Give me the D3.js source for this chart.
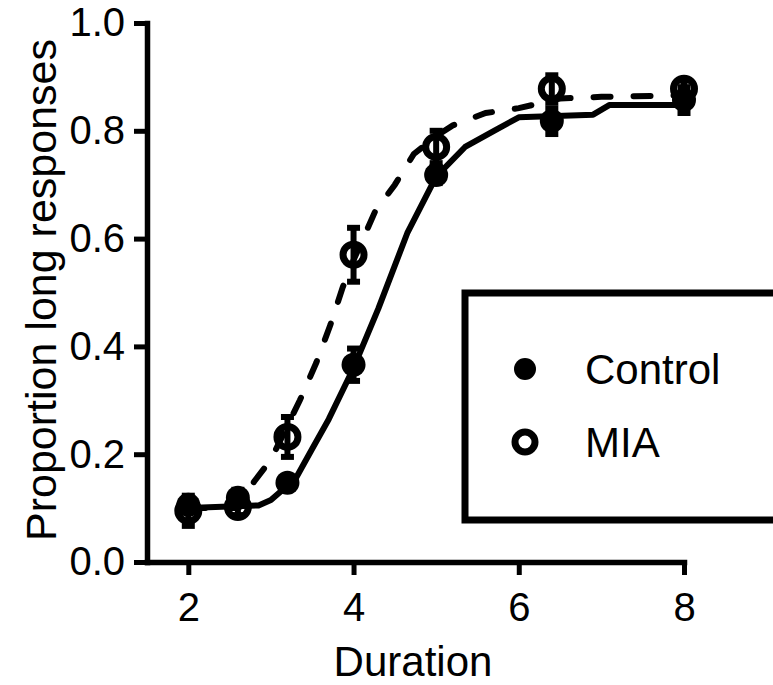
<!DOCTYPE html>
<html>
<head>
<meta charset="utf-8">
<script src="https://cdn.jsdelivr.net/npm/d3@7"></script>
<style>
  body { margin: 0; background: #fff; }
  svg { display: block; }
  text { font-family: 'Liberation Sans', Arial, sans-serif; fill: #000; }
</style>
</head>
<body>
<div id="chart"></div>
<script>
// group means and SEM at each tested duration
const durations = [2, 2.6, 3.2, 4, 5, 6.4, 8]
const controlMean = [0.106, 0.119, 0.147, 0.366, 0.718, 0.818, 0.857]
const controlErr = [0.012, 0.015, 0.01, 0.03, 0.015, 0.024, 0.024]
const miaMean = [0.095, 0.102, 0.232, 0.57, 0.77, 0.878, 0.878]
const miaErr = [0.028, 0.015, 0.037, 0.05, 0.03, 0.025, 0.015]

// fitted curves
const controlFitX = [2, 2.85, 3.0, 3.3, 3.5, 3.7, 4.0, 4.3, 4.65, 5.0, 5.35, 5.7, 6.0, 6.9, 7.1, 8]
const controlFitY = [0.10, 0.105, 0.115, 0.155, 0.21, 0.265, 0.36, 0.47, 0.61, 0.715, 0.77, 0.80, 0.825, 0.83, 0.848, 0.848]
const miaFitX = [2, 2.6, 2.8, 3.0, 3.35, 3.55, 3.72, 3.87, 4.0, 4.26, 4.5, 4.73, 5.0, 5.2, 5.6, 6.0, 6.5, 7.0, 8]
const miaFitY = [0.10, 0.10, 0.15, 0.19, 0.30, 0.37, 0.44, 0.51, 0.56, 0.65, 0.70, 0.757, 0.79, 0.81, 0.833, 0.842, 0.86, 0.863, 0.866]

const xTicks = [2, 4, 6, 8]
const yTicks = [0, 0.2, 0.4, 0.6, 0.8, 1.0]
const seriesNames = ['Control', 'MIA']

const width = 773
const height = 685

const x = d3.scaleLinear().domain([1.5, 8]).range([147, 684])
const y = d3.scaleLinear().domain([0, 1]).range([562, 23])

const svg = d3.select('#chart').append('svg')
  .attr('width', width)
  .attr('height', height)

// legend box (runs off the right edge)
svg.append('rect')
  .attr('x', 465)
  .attr('y', 293)
  .attr('width', 340)
  .attr('height', 227)
  .attr('fill', 'none')
  .attr('stroke', '#000')
  .attr('stroke-width', 7)

const xAxis = d3.axisBottom(x)
  .tickValues(xTicks)
  .tickSizeInner(13)
  .tickSizeOuter(0)
  .tickPadding(18)
  .tickFormat(d3.format('d'))

const yAxis = d3.axisLeft(y)
  .tickValues(yTicks)
  .tickSizeInner(13)
  .tickSizeOuter(0)
  .tickPadding(9)
  .tickFormat(d3.format('.1f'))

const gx = svg.append('g')
  .attr('transform', 'translate(0,' + y(0) + ')')
  .call(xAxis)

const gy = svg.append('g')
  .attr('transform', 'translate(' + x(1.5) + ',0)')
  .call(yAxis)

;[gx, gy].forEach(g => {
  g.select('.domain').attr('stroke', '#000').attr('stroke-width', 5.5).attr('stroke-linecap', 'square')
  g.selectAll('.tick line').attr('stroke', '#000').attr('stroke-width', 5)
  g.selectAll('.tick text')
    .style('font-family', "'Liberation Sans', Arial, sans-serif")
    .style('font-size', '40px')
    .attr('fill', '#000')
})

// axis titles
svg.append('text')
  .attr('x', 413)
  .attr('y', 676)
  .attr('text-anchor', 'middle')
  .style('font-size', '42px')
  .text('Duration')

svg.append('text')
  .attr('transform', 'translate(56,290) rotate(-90)')
  .attr('text-anchor', 'middle')
  .style('font-size', '43px')
  .text('Proportion long responses')

// fitted curves
const fitLine = d3.line()
  .x(d => x(d[0]))
  .y(d => y(d[1]))

svg.append('path')
  .datum(controlFitX.map((v, i) => [v, controlFitY[i]]))
  .attr('d', fitLine)
  .attr('fill', 'none')
  .attr('stroke', '#000')
  .attr('stroke-width', 6)
  .attr('stroke-linejoin', 'round')

svg.append('path')
  .datum(miaFitX.map((v, i) => [v, miaFitY[i]]))
  .attr('d', fitLine)
  .attr('fill', 'none')
  .attr('stroke', '#000')
  .attr('stroke-width', 6)
  .attr('stroke-linecap', 'round')
  .attr('stroke-dasharray', '17,23')

// error bars
const drawErrors = (means, errs) => {
  const g = svg.append('g')
  durations.forEach((d, i) => {
    const cx = x(d)
    const lo = y(means[i] - errs[i])
    const hi = y(means[i] + errs[i])
    g.append('line')
      .attr('x1', cx).attr('x2', cx)
      .attr('y1', lo).attr('y2', hi)
      .attr('stroke', '#000').attr('stroke-width', 6)
    ;[lo, hi].forEach(yy => {
      g.append('line')
        .attr('x1', cx - 6.5).attr('x2', cx + 6.5)
        .attr('y1', yy).attr('y2', yy)
        .attr('stroke', '#000').attr('stroke-width', 6)
    })
  })
}

drawErrors(controlMean, controlErr)
drawErrors(miaMean, miaErr)

// markers: filled control under open MIA rings
svg.append('g').selectAll('circle')
  .data(durations)
  .join('circle')
  .attr('cx', d => x(d))
  .attr('cy', (d, i) => y(controlMean[i]))
  .attr('r', 12)
  .attr('fill', '#000')

svg.append('g').selectAll('circle')
  .data(durations)
  .join('circle')
  .attr('cx', d => x(d))
  .attr('cy', (d, i) => y(miaMean[i]))
  .attr('r', 10.5)
  .attr('fill', 'none')
  .attr('stroke', '#000')
  .attr('stroke-width', 7)

// legend
const legend = svg.append('g')
seriesNames.forEach((name, i) => {
  const ly = 369 + i * 73
  if (i === 0) {
    legend.append('circle')
      .attr('cx', 525).attr('cy', ly).attr('r', 11)
      .attr('fill', '#000')
  } else {
    legend.append('circle')
      .attr('cx', 525).attr('cy', ly).attr('r', 10)
      .attr('fill', 'none').attr('stroke', '#000').attr('stroke-width', 7)
  }
  legend.append('text')
    .attr('x', 585)
    .attr('y', ly + 15)
    .style('font-size', '42px')
    .text(name)
})
</script>
</body>
</html>
